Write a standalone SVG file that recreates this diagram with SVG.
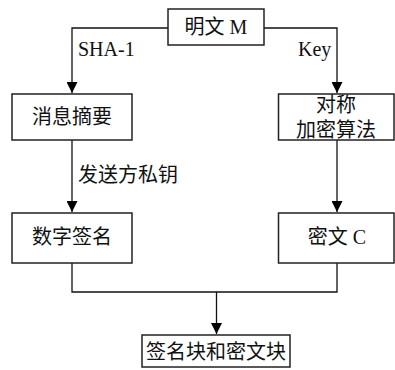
<svg xmlns="http://www.w3.org/2000/svg" width="395" height="370" viewBox="0 0 395 370">
<style>
.box{fill:#fff;stroke:#222;stroke-width:1.5}
.ln{fill:none;stroke:#111;stroke-width:1.3}
text{font-family:"Liberation Serif","Noto Sans CJK SC",serif;font-size:20px;fill:#111}
.c{text-anchor:middle}
</style>
<defs>
<marker id="arr" markerUnits="userSpaceOnUse" markerWidth="11" markerHeight="11" refX="10" refY="5" orient="auto" viewBox="0 0 10 10">
<path d="M0,0 L10,5 L0,10 z" fill="#000"/>
</marker>
</defs>
<g id="connectors">
<polyline class="ln" points="168,28 72,28 72,93" marker-end="url(#arr)"/>
<polyline class="ln" points="264,28 337,28 337,93" marker-end="url(#arr)"/>
<line class="ln" x1="72" y1="140" x2="72" y2="212" marker-end="url(#arr)"/>
<line class="ln" x1="337" y1="140" x2="337" y2="212" marker-end="url(#arr)"/>
<polyline class="ln" points="72,263 72,292 337,292 337,263"/>
<line class="ln" x1="216.5" y1="292" x2="216.5" y2="334" marker-end="url(#arr)"/>
<text x="78" y="56">SHA-1</text>
<text x="298" y="56">Key</text>
<text x="78" y="182">发送方私钥</text>
</g>
<g id="plaintext">
<rect class="box" x="168" y="9" width="96" height="36"/>
<text class="c" x="216" y="34">明文 M</text>
</g>
<g id="digest">
<rect class="box" x="12" y="94" width="120" height="46"/>
<text class="c" x="72" y="124">消息摘要</text>
</g>
<g id="symmetric">
<rect class="box" x="278.5" y="94" width="115.5" height="46"/>
<text class="c" x="336" y="112">对称</text>
<text class="c" x="336" y="137">加密算法</text>
</g>
<g id="signature">
<rect class="box" x="12" y="213" width="120" height="50"/>
<text class="c" x="72" y="244">数字签名</text>
</g>
<g id="ciphertext">
<rect class="box" x="278.5" y="213" width="115.5" height="50"/>
<text class="c" x="337" y="244">密文 C</text>
</g>
<g id="output">
<rect class="box" x="142" y="335" width="148" height="32"/>
<text class="c" x="216" y="359">签名块和密文块</text>
</g>
</svg>
